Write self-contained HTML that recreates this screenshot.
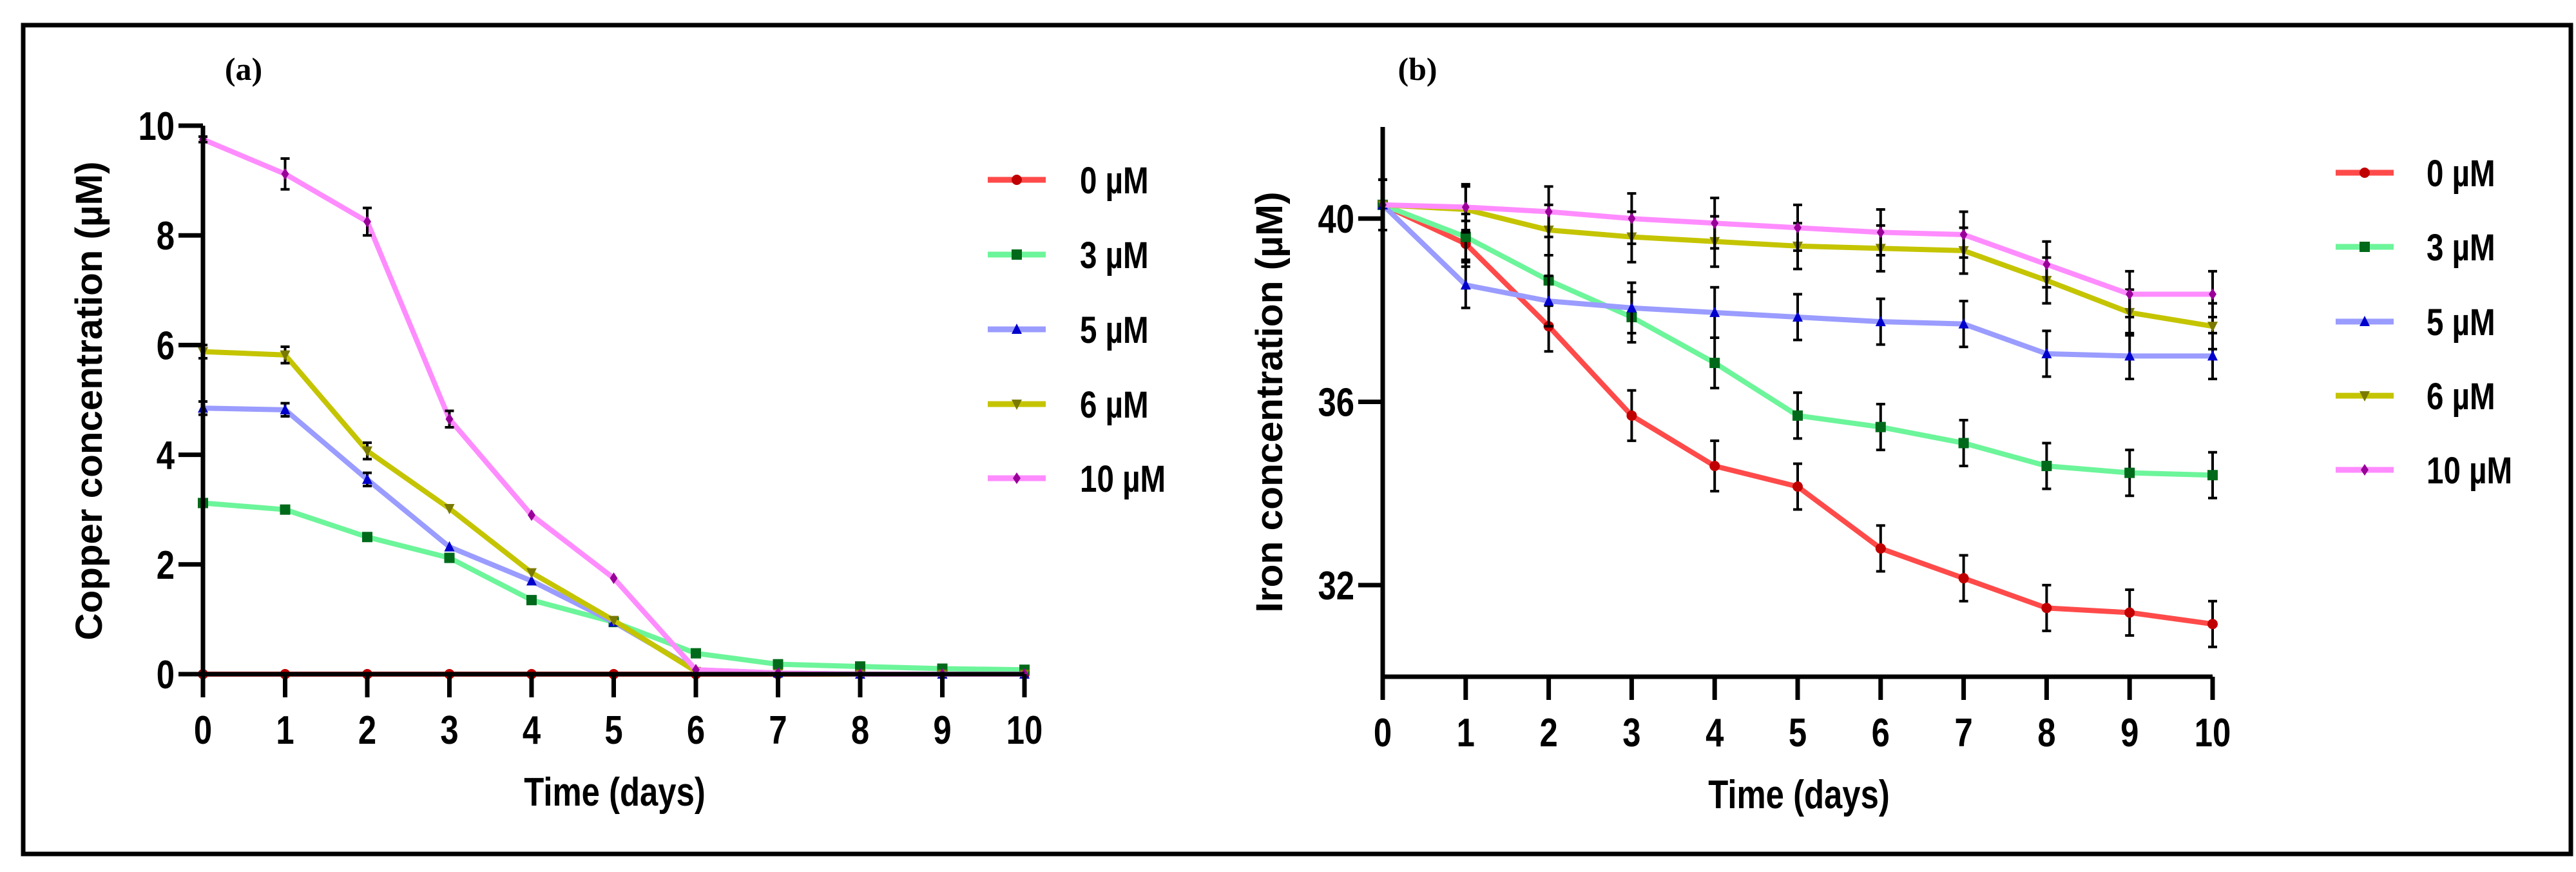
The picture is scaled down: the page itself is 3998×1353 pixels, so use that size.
<!DOCTYPE html>
<html><head><meta charset="utf-8"><style>
html,body{margin:0;padding:0;background:#fff;}
svg{display:block;}
text{font-family:"Liberation Sans",Arial,sans-serif;font-weight:bold;fill:#000;}
</style></head><body>
<svg id="fig" width="3998" height="1353" viewBox="0 0 3998 1353" xmlns="http://www.w3.org/2000/svg">
<rect x="36" y="39" width="3954" height="1286" fill="none" stroke="#000" stroke-width="7"/>
<text x="378" y="124" font-size="50" text-anchor="middle" style="font-family:'Liberation Serif',serif">(a)</text>
<text x="2200" y="124" font-size="50" text-anchor="middle" style="font-family:'Liberation Serif',serif">(b)</text>
<g id="chartA"></g>
<g id="chartB"></g>
</svg>
<script>
const days = [0,1,2,3,4,5,6,7,8,9,10];
const seriesNames = ["0 µM","3 µM","5 µM","6 µM","10 µM"];
const cu0 = [0,0,0,0,0,0,0,0,0,0,0];
const cu3 = [3.12,3.0,2.5,2.12,1.35,0.95,0.38,0.18,0.14,0.1,0.08];
const cu5 = [4.85,4.82,3.55,2.32,1.7,0.95,0.08,0.02,0,0,0];
const cu6 = [5.88,5.82,4.07,3.02,1.85,0.98,0.05,0.01,0,0,0];
const cu10 = [9.75,9.12,8.25,4.65,2.9,1.75,0.08,0.02,0,0,0];
const cuErr6 = [0.12,0.15,0.15,0,0,0,0,0,0,0,0];
const cuErr5 = [0.12,0.12,0.12,0,0,0,0,0,0,0,0];
const cuErr10 = [0.05,0.28,0.25,0.15,0,0,0,0,0,0,0];
const cuErr3 = [0.05,0,0,0,0,0,0,0,0,0,0];
const cuErr0 = [0,0,0,0,0,0,0,0,0,0,0];
const fe0 = [40.3,39.45,37.65,35.7,34.6,34.15,32.8,32.15,31.5,31.4,31.15];
const fe3 = [40.3,39.6,38.65,37.85,36.85,35.7,35.45,35.1,34.6,34.45,34.4];
const fe5 = [40.3,38.55,38.2,38.05,37.95,37.85,37.75,37.7,37.05,37.0,37.0];
const fe6 = [40.3,40.2,39.75,39.6,39.5,39.4,39.35,39.3,38.65,37.95,37.65];
const fe10 = [40.3,40.25,40.15,40.0,39.9,39.8,39.7,39.65,39.0,38.35,38.35];
const feErr = [0.55,0.5,0.55,0.55,0.55,0.5,0.5,0.5,0.5,0.5,0.5];
const cuTicks = [0,2,4,6,8,10];
const feTicks = [32,36,40];

const NS="http://www.w3.org/2000/svg";
const lineColors=["#ff4a4a","#6cf59a","#9a9cff","#c4c400","#ff8cff"];
const markColors=["#c00000","#006a1a","#0000cc","#7a7a00","#990099"];
const shapes=["circle","square","up","down","diamond"];
function el(tag,attrs,parent){const e=document.createElementNS(NS,tag);for(const k in attrs)e.setAttribute(k,attrs[k]);parent.appendChild(e);return e;}
function marker(shape,x,y,c,parent){
  let m;
  if(shape==="circle") m=el("circle",{cx:x,cy:y,r:8,fill:c},parent);
  else if(shape==="square") m=el("rect",{x:x-8,y:y-8,width:16,height:16,fill:c},parent);
  else if(shape==="up") m=el("polygon",{points:`${x},${y-9} ${x-8},${y+7} ${x+8},${y+7}`,fill:c},parent);
  else if(shape==="down") m=el("polygon",{points:`${x},${y+9} ${x-8},${y-7} ${x+8},${y-7}`,fill:c},parent);
  else m=el("polygon",{points:`${x},${y-9} ${x+6},${y} ${x},${y+9} ${x-6},${y}`,fill:c},parent);
  return m;
}
function narrowText(parent,x,y,str,size,anchor,name){
  const t=el("text",{x:0,y:0,"font-size":size,"text-anchor":anchor,transform:`translate(${x},${y}) scale(0.82,1)`},parent);
  t.textContent=str;
  
  
  return t;
}
function drawChart(g,cfg){
  const X=v=>cfg.x0+(v-0)*(cfg.x1-cfg.x0)/10;
  const Y=v=>cfg.yb+(v-cfg.ymin)*(cfg.yt-cfg.yb)/(cfg.ymax-cfg.ymin);
  // series
  cfg.series.forEach((s,i)=>{
    const sg=el("g",{},g);
    
    
    const pts=days.map((d,j)=>X(d)+","+Y(s[j])).join(" ");
    el("polyline",{points:pts,fill:"none",stroke:lineColors[i],"stroke-width":8,"stroke-linejoin":"round"},sg);
    days.forEach((d,j)=>{
      const e=cfg.errs[i][j];
      if(e>0){
        const x=X(d),ya=Y(s[j]+e),yb=Y(s[j]-e);
        const eb=el("path",{d:`M${x},${ya}V${yb}M${x-7},${ya}H${x+7}M${x-7},${yb}H${x+7}`,stroke:"#000","stroke-width":4,fill:"none"},sg);
        
        
      }
      const m=marker(shapes[i],X(d),Y(s[j]),markColors[i],sg);
      
      
    });
  });
  // axes
  const ax=el("path",{d:`M${cfg.x0},${Y(cfg.ymax)}V${cfg.yb}M${cfg.x0},${cfg.yb}H${X(10)}`,stroke:"#000","stroke-width":7,fill:"none"},g);
  
  
  days.forEach(d=>{
    el("line",{x1:X(d),x2:X(d),y1:cfg.yb,y2:cfg.yb+36,stroke:"#000","stroke-width":7},g);
    narrowText(g,X(d),cfg.yb+108,String(d),62,"middle","x-tick-label");
  });
  cfg.ticks.forEach(t=>{
    el("line",{x1:cfg.x0-38,x2:cfg.x0,y1:Y(t),y2:Y(t),stroke:"#000","stroke-width":7},g);
    narrowText(g,cfg.x0-44,Y(t)+22,String(t),62,"end","y-tick-label");
  });
  narrowText(g,cfg.xtx,cfg.xty,"Time (days)",62,"middle","x-axis-title");
  const yt=el("text",{x:0,y:0,"font-size":58,"text-anchor":"middle",textLength:cfg.ylen,lengthAdjust:"spacingAndGlyphs",transform:`translate(${cfg.ytx},${cfg.yty}) rotate(-90)`},g);
  yt.textContent=cfg.ytitle;
  
  
  // legend
  cfg.legY.forEach((ly,i)=>{
    const lg=el("g",{},g);
    
    
    el("line",{x1:cfg.legX,x2:cfg.legX+90,y1:ly,y2:ly,stroke:lineColors[i],"stroke-width":9},lg);
    marker(shapes[i],cfg.legX+45,ly,markColors[i],lg);
    narrowText(lg,cfg.legTX,ly+21,seriesNames[i],58,"start","legend-label");
  });
}
drawChart(document.getElementById("chartA"),{
  x0:315,x1:1590,yb:1046,yt:195,ymin:0,ymax:10,ticks:cuTicks,
  series:[cu0,cu3,cu5,cu6,cu10],errs:[cuErr0,cuErr3,cuErr5,cuErr6,cuErr10],
  xtx:954,xty:1250,ytx:158,yty:622,ylen:743,ytitle:"Copper concentration (µM)",
  legX:1533,legTX:1676,legY:[279,395,511,627,742]
});
drawChart(document.getElementById("chartB"),{
  x0:2146,x1:3434,yb:1050,yt:197,ymin:30,ymax:42,ticks:feTicks,
  series:[fe0,fe3,fe5,fe6,fe10],errs:[feErr,feErr,feErr,feErr,feErr],
  xtx:2792,xty:1254,ytx:1990,yty:624,ylen:653,ytitle:"Iron concentration (µM)",
  legX:3625,legTX:3766,legY:[268,383,499,614,729]
});
</script>
</body></html>
